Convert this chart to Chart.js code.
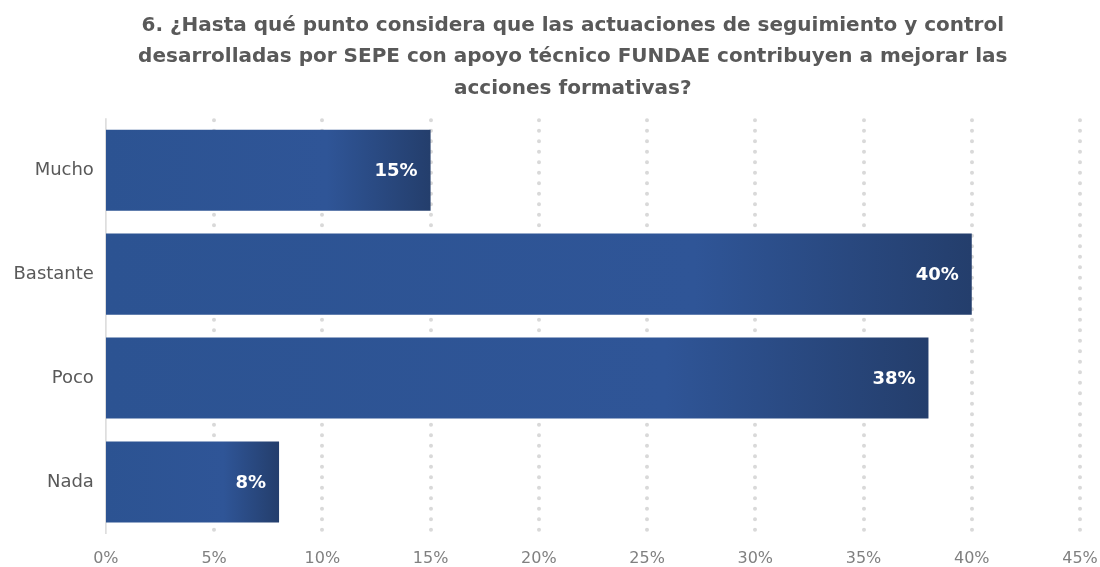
<!DOCTYPE html>
<html>
<head>
<meta charset="utf-8">
<script src="https://cdn.jsdelivr.net/npm/chart.js@4"></script>
<style>
  html, body { margin: 0; padding: 0; background: #fff; }
  #wrap { width: 1100px; height: 567px; }
</style>
</head>
<body>
<div id="wrap"><canvas id="chart" width="1100" height="567"></canvas></div>
<script>
const categories = ["Mucho", "Bastante", "Poco", "Nada"];
const values = [15, 40, 38, 8];
const titleLines = [
  "6. ¿Hasta qué punto considera que las actuaciones de seguimiento y control",
  "desarrolladas por SEPE con apoyo técnico FUNDAE contribuyen a mejorar las",
  "acciones formativas?",
];
const xMax = 45;
const xStep = 5;

const fontFamily = "'DejaVu Sans', sans-serif";

function barGradient(context) {
  const chart = context.chart;
  const x = chart.scales.x;
  if (!x || context.dataIndex === undefined) return "#2f5597";
  const x0 = x.getPixelForValue(0);
  const x1 = x.getPixelForValue(values[context.dataIndex]);
  if (!isFinite(x0) || !isFinite(x1) || x1 <= x0) return "#2f5597";
  const g = chart.ctx.createLinearGradient(x0, 0, x1, 0);
  g.addColorStop(0, "#2c5392");
  g.addColorStop(0.68, "#2f5597");
  g.addColorStop(1, "#243e6c");
  return g;
}

// dotted vertical grid lines (round dots) + solid axis line at 0
const dotGrid = {
  id: "dotGrid",
  beforeDatasetsDraw(chart) {
    const { ctx, chartArea } = chart;
    const x = chart.scales.x;
    ctx.save();
    ctx.strokeStyle = "#d9d9d9";
    ctx.lineWidth = 4;
    ctx.lineCap = "round";
    ctx.setLineDash([0, 10.5]);
    for (let v = xStep; v <= xMax; v += xStep) {
      const px = Math.round(x.getPixelForValue(v));
      ctx.beginPath();
      ctx.moveTo(px, chartArea.top + 2);
      ctx.lineTo(px, chartArea.bottom - 2);
      ctx.stroke();
    }
    ctx.setLineDash([]);
    ctx.lineWidth = 1.5;
    ctx.lineCap = "butt";
    const px0 = x.getPixelForValue(0);
    ctx.beginPath();
    ctx.moveTo(px0, chartArea.top);
    ctx.lineTo(px0, chartArea.bottom);
    ctx.stroke();
    ctx.restore();
  },
};

// value labels inside bar ends
const barLabels = {
  id: "barLabels",
  afterDatasetsDraw(chart) {
    const { ctx } = chart;
    const meta = chart.getDatasetMeta(0);
    ctx.save();
    ctx.fillStyle = "#ffffff";
    ctx.font = "bold 18px " + fontFamily;
    ctx.textAlign = "right";
    ctx.textBaseline = "middle";
    meta.data.forEach((bar, i) => {
      ctx.fillText(values[i] + "%", bar.x - 13, bar.y + 1);
    });
    ctx.restore();
  },
};

// nudge the title to the right, as in the original
const titleShift = {
  id: "titleShift",
  afterLayout(chart) {
    const t = chart.titleBlock;
    if (t) {
      t.left += 32;
      t.right += 32;
    }
  },
};

new Chart(document.getElementById("chart"), {
  type: "bar",
  data: {
    labels: categories,
    datasets: [
      {
        data: values,
        backgroundColor: barGradient,
        borderWidth: 0,
        barPercentage: 0.78,
        categoryPercentage: 1,
      },
    ],
  },
  options: {
    indexAxis: "y",
    responsive: false,
    animation: false,
    layout: { autoPadding: false, padding: { left: 1.5, right: 20, top: 0, bottom: 0 } },
    plugins: {
      legend: { display: false },
      tooltip: { enabled: false },
      title: {
        display: true,
        text: titleLines,
        color: "#595959",
        font: { family: fontFamily, size: 20, weight: "bold", lineHeight: 1.57 },
        padding: { top: 10, bottom: 14 },
      },
    },
    scales: {
      x: {
        min: 0,
        max: xMax,
        afterFit: (scale) => {
          scale.height = 33;
          scale.paddingRight = 0;
        },
        ticks: {
          stepSize: xStep,
          color: "#808080",
          font: { family: fontFamily, size: 16 },
          padding: 15,
          callback: (v) => v + "%",
        },
        grid: { display: false, drawTicks: false },
        border: { display: false },
      },
      y: {
        ticks: {
          color: "#595959",
          font: { family: fontFamily, size: 18 },
          padding: 12,
        },
        grid: { display: false, drawTicks: false },
        border: { display: false },
      },
    },
  },
  plugins: [dotGrid, barLabels, titleShift],
});
</script>
</body>
</html>
